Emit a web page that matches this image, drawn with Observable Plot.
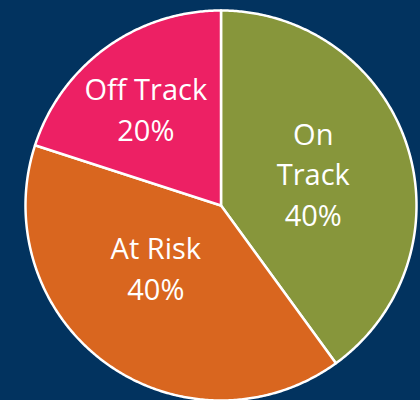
<!DOCTYPE html>
<html>
<head>
<meta charset="utf-8">
<script src="https://cdn.jsdelivr.net/npm/d3@7"></script>
<script src="https://cdn.jsdelivr.net/npm/@observablehq/plot@0.6"></script>
<style>
  html, body { margin: 0; padding: 0; background: #02335F; }
  #chart { width: 420px; height: 400px; overflow: hidden; }
</style>
</head>
<body>
<div id="chart"></div>
<script>
// Data
const categories = ["On Track", "At Risk", "Off Track"];
const percents = [40, 40, 20];
const colors = ["#87963B", "#D9661F", "#ED2064"];

const data = categories.map((c, i) => ({category: c, value: percents[i]}));

// Angles from d3.pie (clockwise from 12 o'clock)
const arcs = d3.pie().sort(null).value(d => d.value)(data);

// Sample slice outlines in data space (unit circle)
const pts = [];
arcs.forEach(a => {
  const key = a.data.category;
  pts.push({key, x: 0, y: 0});
  const n = Math.max(2, Math.ceil((a.endAngle - a.startAngle) / (Math.PI / 360)));
  for (let k = 0; k <= n; k++) {
    const t = a.startAngle + (a.endAngle - a.startAngle) * k / n;
    pts.push({key, x: Math.sin(t), y: Math.cos(t)});
  }
});

// Label anchors at mid-angle
const labels = arcs.map(a => {
  const m = (a.startAngle + a.endAngle) / 2;
  const r = 0.55;
  const name = a.data.category === "On Track" ? "On\nTrack" : a.data.category;
  return {key: a.data.category, x: r * Math.sin(m), y: r * Math.cos(m), text: `${name}\n${a.data.value}%`};
});

const offsets = {"On Track": [-10, 0], "At Risk": [-2, -26], "Off Track": [-12, -11]};

const textMarks = categories.map(c => Plot.text(labels.filter(d => d.key === c), {
  x: "x", y: "y", text: "text",
  fill: "white", fontSize: 29, lineHeight: 1.40,
  fontFamily: "Open Sans", textAnchor: "middle",
  dx: offsets[c][0], dy: offsets[c][1]
}));

const chart = Plot.plot({
  width: 420,
  height: 400,
  marginLeft: 25,
  marginRight: 4,
  marginTop: 10,
  marginBottom: 0,
  x: {domain: [-1, 1], axis: null},
  y: {domain: [-1, 1], axis: null},
  color: {domain: categories, range: colors},
  style: {background: "#02335F", fontFamily: "Open Sans"},
  marks: [
    Plot.line(pts, {x: "x", y: "y", z: "key", fill: "key", stroke: "white", strokeWidth: 2.5, curve: "linear-closed", strokeLinejoin: "round"}),
    ...textMarks
  ]
});
document.getElementById("chart").appendChild(chart);
</script>
</body>
</html>
